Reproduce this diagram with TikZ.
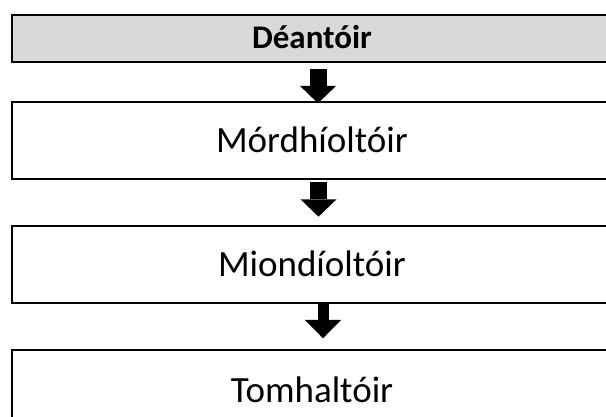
\documentclass[tikz,border=0pt]{standalone}
\usepackage{fontspec}
\setmainfont{Carlito}
\usetikzlibrary{arrows.meta}
\definecolor{boxgray}{HTML}{D9D9D9}
\begin{document}
\begin{tikzpicture}[x=1pt,y=-1pt,
  box/.style={draw=black, line width=2.1pt, minimum width=600pt, inner sep=0pt,
    outer sep=0pt, anchor=north west, text height=23.8pt, text depth=0pt,
    font=\fontsize{37}{42}\selectfont},
  headbox/.style={box, fill=boxgray, text height=21pt,
    font=\fontsize{33}{38}\selectfont\bfseries},
  fatarrow/.style={line width=17pt,
    -{Triangle[length=17.4pt,width=36pt,line width=0pt]}},
  thinarrow/.style={line width=11pt,
    -{Triangle[length=18.3pt,width=36pt,line width=0pt]}}]
\useasboundingbox (0,0) rectangle (606,417);
\clip (0,0) rectangle (606,417);
\fill[white] (0,0) rectangle (606,417);
\node[headbox, minimum height=46.7pt] (b1) at (12,15) {Déantóir};
\node[box, minimum height=77.6pt] (b2) at (12,101.7) {Mórdhíoltóir};
\node[box, minimum height=76.7pt] (b3) at (12,226) {Miondíoltóir};
\node[box, minimum height=81pt] (b4) at (12,350) {Tomhaltóir};
\draw[fatarrow] ([xshift=6pt,yshift=-7.6pt]b1.south) -- ([xshift=6pt,yshift=-1.6pt]b2.north);
\draw[fatarrow] ([xshift=6.5pt,yshift=-2.4pt]b2.south) -- ([xshift=6.5pt,yshift=9.3pt]b3.north);
\draw[thinarrow] ([xshift=11pt,yshift=-0.3pt]b3.south) -- ([xshift=11pt,yshift=11.7pt]b4.north);
\end{tikzpicture}
\end{document}
